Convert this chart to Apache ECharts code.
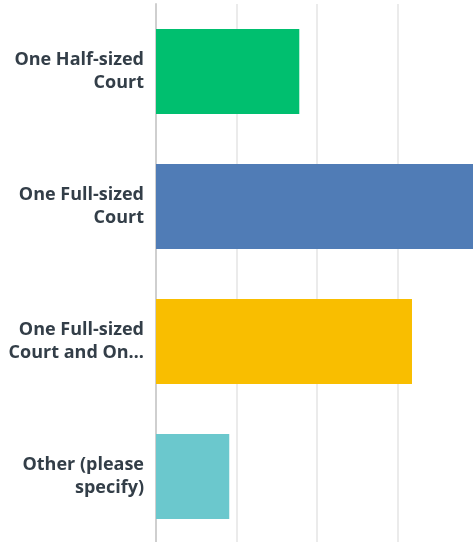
<!DOCTYPE html>
<html>
<head>
<meta charset="utf-8">
<script src="https://cdn.jsdelivr.net/npm/echarts@6/dist/echarts.min.js"></script>
<style>
html,body{margin:0;padding:0;background:#fff;}
#chart{width:473px;height:542px;}
</style>
</head>
<body>
<div id="chart"></div>
<script>
const categories = ["One Half-sized\nCourt", "One Full-sized\nCourt", "One Full-sized\nCourt and On…", "Other (please\nspecify)"];
const values = [17.8, 41.3, 31.8, 9.1];
const colors = ["#00bf6f", "#507cb6", "#f9be00", "#6bc8cd"];
const xTicks = [0, 10, 20, 30, 40, 50, 60, 70, 80, 90, 100];

const chart = echarts.init(document.getElementById('chart'));
chart.setOption({
  animation: false,
  grid: { left: 156, top: 4, right: -488, bottom: -2, outerBoundsMode: 'none' },
  xAxis: {
    type: 'value', min: xTicks[0], max: xTicks[xTicks.length - 1], interval: 10,
    axisLabel: { show: false }, axisTick: { show: false }, axisLine: { show: false },
    splitLine: { show: true, lineStyle: { color: '#ebebeb', width: 2 } }
  },
  yAxis: {
    type: 'category', data: categories, inverse: true,
    axisTick: { show: false },
    axisLine: { show: true, lineStyle: { color: '#cfcfcf', width: 2 } },
    axisLabel: {
      margin: 12, color: '#333e48', fontFamily: 'Open Sans', fontWeight: 'bold',
      fontSize: 18, lineHeight: 23, align: 'right', padding: [4, 0, 0, 0]
    }
  },
  series: [{
    type: 'bar',
    data: values.map((v, i) => ({ value: v, itemStyle: { color: colors[i] } })),
    barCategoryGap: '37%'
  }]
});
</script>
</body>
</html>
